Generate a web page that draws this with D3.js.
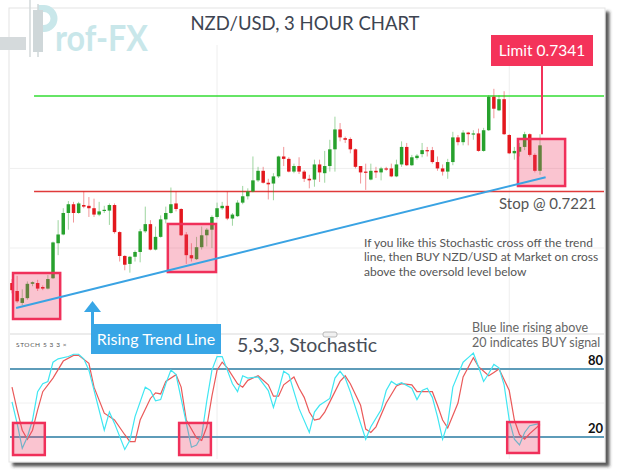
<!DOCTYPE html>
<html>
<head>
<meta charset="utf-8">
<script src="https://cdn.jsdelivr.net/npm/d3@7"></script>
<style>
body { margin: 0; background: #fff; }
text { font-family: Lato, "Open Sans", sans-serif; }
</style>
</head>
<body>
<script>
// NZD/USD 3 hour candles (open, high, low, close)
var opens = [.7106,.7096,.7081,.7087,.7105,.7106,.7101,.7099,.7112,.7156,
  .7167,.7194,.7205,.7194,.7204,.7203,.7200,.7192,.7197,.7197,
  .7204,.7170,.7140,.7130,.7139,.7145,.7171,.7180,.7148,.7164,
  .7186,.7194,.7206,.7199,.7167,.7141,.7136,.7151,.7166,.7173,
  .7189,.7200,.7203,.7187,.7190,.7207,.7215,.7221,.7235,.7247,
  .7232,.7231,.7240,.7265,.7262,.7246,.7253,.7246,.7237,.7236,
  .7255,.7244,.7253,.7274,.7299,.7288,.7287,.7274,.7253,.7246,
  .7236,.7247,.7245,.7250,.7250,.7240,.7255,.7277,.7254,.7263,
  .7268,.7273,.7273,.7258,.7250,.7246,.7258,.7289,.7283,.7295,
  .7293,.7294,.7272,.7298,.7340,.7323,.7337,.7292,.7269,.7271,
  .7277,.7293,.7267,.7247];
var highs = [.7111,.7115,.7098,.7108,.7108,.7110,.7103,.7116,.7158,.7185,
  .7200,.7209,.7208,.7208,.7221,.7214,.7212,.7208,.7203,.7206,
  .7206,.7171,.7141,.7140,.7147,.7174,.7202,.7185,.7177,.7191,
  .7202,.7226,.7221,.7200,.7170,.7156,.7164,.7177,.7175,.7191,
  .7207,.7208,.7221,.7194,.7210,.7228,.7225,.7265,.7252,.7252,
  .7237,.7244,.7266,.7277,.7264,.7256,.7264,.7248,.7242,.7261,
  .7261,.7272,.7286,.7315,.7307,.7290,.7289,.7275,.7253,.7256,
  .7256,.7252,.7252,.7252,.7256,.7261,.7284,.7282,.7267,.7268,
  .7282,.7277,.7277,.7265,.7255,.7262,.7296,.7292,.7298,.7296,
  .7298,.7300,.7301,.7342,.7350,.7342,.7347,.7293,.7277,.7282,
  .7296,.7294,.7269,.7293];
var lows = [.7093,.7081,.7078,.7085,.7102,.7096,.7097,.7098,.7111,.7141,
  .7166,.7173,.7182,.7193,.7200,.7189,.7189,.7190,.7194,.7179,
  .7168,.7133,.7122,.7119,.7133,.7132,.7169,.7147,.7147,.7163,
  .7181,.7193,.7196,.7165,.7130,.7133,.7135,.7148,.7152,.7150,
  .7187,.7198,.7185,.7178,.7189,.7205,.7211,.7220,.7233,.7231,
  .7211,.7210,.7238,.7253,.7245,.7244,.7243,.7233,.7225,.7227,
  .7233,.7232,.7246,.7246,.7284,.7282,.7269,.7250,.7231,.7223,
  .7235,.7238,.7235,.7247,.7239,.7239,.7252,.7253,.7253,.7261,
  .7264,.7265,.7256,.7247,.7241,.7237,.7254,.7279,.7279,.7279,
  .7286,.7271,.7271,.7297,.7313,.7322,.7292,.7268,.7261,.7265,
  .7273,.7265,.7245,.7242];
var closes = [.7097,.7083,.7087,.7105,.7107,.7099,.7099,.7111,.7157,.7167,
  .7194,.7205,.7194,.7206,.7202,.7200,.7192,.7196,.7198,.7204,
  .7170,.7140,.7129,.7139,.7145,.7171,.7180,.7148,.7164,.7186,
  .7194,.7205,.7199,.7166,.7141,.7137,.7151,.7166,.7173,.7189,
  .7200,.7203,.7187,.7192,.7207,.7215,.7221,.7235,.7247,.7232,
  .7230,.7240,.7265,.7262,.7246,.7253,.7246,.7237,.7235,.7255,
  .7245,.7253,.7274,.7299,.7289,.7286,.7274,.7252,.7245,.7245,
  .7247,.7245,.7250,.7249,.7240,.7255,.7277,.7254,.7264,.7266,
  .7273,.7272,.7258,.7250,.7246,.7258,.7289,.7283,.7295,.7293,
  .7294,.7272,.7298,.7340,.7325,.7337,.7293,.7269,.7272,.7277,
  .7293,.7267,.7247,.7279];

// stochastic 5,3,3 : candle index of each visible vertex and its value
var kIdx = [0,1,2,3,4,5,6,7,8,9,11,12,13,14,15,18,19,20,22,23,24,26,27,28,29,30,31,32,35,36,37,38,39,40,41,42,43,44,45,46,48,50,51,52,53,54,55,56,58,59,60,62,63,64,65,66,69,70,72,73,74,75,76,78,79,80,81,82,83,84,85,86,88,89,90,91,92,93,94,95,96,97,98,99,100,101,103];
var kVal = [51,32,10,20,35,60,67,69,86,89,91,93,93,89,79,26,42,32,9,17,38,64,61,52,53,67,79,75,11,13,21,52,79,91,91,79,67,60,74,72,73,61,46,61,78,75,60,45,24,42,48,54,72,78,72,60,18,29,44,61,69,66,68,63,53,61,63,55,38,18,32,64,86,90,94,82,69,76,84,81,66,35,18,13,24,30,32];
var dIdx = [0,1,2,3,4,5,6,8,10,12,13,15,16,18,19,20,22,23,24,25,27,28,29,30,32,33,34,36,37,38,39,40,41,42,44,45,46,48,50,51,52,53,55,56,57,58,59,60,61,62,64,65,66,68,69,70,71,73,75,76,78,79,81,82,83,84,85,87,88,90,91,93,94,95,97,98,99,100,101,103];
var dVal = [64,44,26,18,26,44,60,72,87,92,92,85,64,41,38,35,22,16,16,35,54,59,58,69,75,64,35,19,17,29,56,79,86,81,67,64,70,74,66,56,56,66,73,63,55,42,35,36,42,51,69,74,67,48,27,24,29,50,65,67,66,60,60,60,48,35,28,50,73,90,82,74,77,80,61,35,22,18,23,31];

// levels and grid
var limitPrice = 0.7341, stopPrice = 0.7221;
var priceGrid = [0.7150, 0.7250];
var stochLevels = [80, 20];
var timeGrid = [40, 97];

// annotation boxes in data units: [fromIndex, toIndex, top, bottom]
var priceBoxes = [[0.2, 9.4, 0.71186, 0.70608], [30.4, 39.8, 0.71802, 0.71198], [98.7, 107.9, 0.72870, 0.72279]];
var stochBoxes = [[0.2, 6.4, 32.4, 4.1], [32.6, 38.8, 32.4, 4.1], [96.6, 102.8, 33.2, 5.9]];
var trend = [[0.8, 0.70746], [104.1, 0.72389]];

var candles = opens.map(function(o, i) {
  return { i: i, o: o, h: highs[i], l: lows[i], c: closes[i] };
});

var svg = d3.select("body").append("svg")
  .attr("width", 617)
  .attr("height", 472);

var x = d3.scaleLinear().domain([0, 103]).range([12, 540]);
var y = d3.scaleLinear().domain([stopPrice, limitPrice]).range([191.5, 96]);
var ys = d3.scaleLinear().domain([20, 80]).range([437, 369]);

var green = "#27a12d", red = "#e3171d";

// card with shadow
var filter = svg.append("defs").append("filter")
  .attr("id", "shadow")
  .attr("x", "-5%").attr("y", "-5%")
  .attr("width", "115%").attr("height", "115%");
filter.append("feDropShadow")
  .attr("dx", 4).attr("dy", 4)
  .attr("stdDeviation", 1.8)
  .attr("flood-color", "#333")
  .attr("flood-opacity", 0.8);

svg.append("rect")
  .attr("x", 9).attr("y", 8)
  .attr("width", 596).attr("height", 454)
  .attr("fill", "#fff")
  .attr("stroke", "#e3e3e3")
  .attr("filter", "url(#shadow)");

// logo
var logo = svg.append("g");
logo.append("rect").attr("x", 0).attr("y", 37).attr("width", 26).attr("height", 13).attr("fill", "#d5dadc");
logo.append("line").attr("x1", 30).attr("x2", 30).attr("y1", 0).attr("y2", 57).attr("stroke", "#d3d8da").attr("stroke-width", 1.5);
logo.append("path").attr("d", "M38,8.5 H44 A10,10 0 0 1 44,28.5 H38")
  .attr("fill", "none").attr("stroke", "#c9e7ea").attr("stroke-width", 7);
logo.append("rect").attr("x", 33).attr("y", 10).attr("width", 10).attr("height", 42).attr("fill", "#cfd7d9");
logo.append("line").attr("x1", 38).attr("x2", 38).attr("y1", 4).attr("y2", 57).attr("stroke", "#cfd7d9").attr("stroke-width", 1.5);
logo.append("text")
  .attr("x", 55).attr("y", 51)
  .attr("font-family", "Roboto, sans-serif")
  .attr("font-weight", "bold")
  .attr("font-size", 36)
  .attr("textLength", 93)
  .attr("lengthAdjust", "spacingAndGlyphs")
  .attr("fill", "#c9e7ea")
  .text("rof-FX");

// title
svg.append("text")
  .attr("x", 305).attr("y", 30)
  .attr("text-anchor", "middle")
  .attr("font-size", 18.5)
  .attr("fill", "#3d4451")
  .text("NZD/USD, 3 HOUR CHART");

// grid
svg.selectAll(".pgrid")
  .data(priceGrid)
  .enter().append("line")
  .attr("x1", 10).attr("x2", 604)
  .attr("y1", function(d) { return y(d); })
  .attr("y2", function(d) { return y(d); })
  .attr("stroke", "#efefef");

svg.selectAll(".tgrid")
  .data(timeGrid)
  .enter().append("line")
  .attr("x1", function(d) { return x(d); })
  .attr("x2", function(d) { return x(d); })
  .attr("y1", 45).attr("y2", 459)
  .attr("stroke", "#eeeeee");

svg.append("line")
  .attr("x1", 10).attr("x2", 604)
  .attr("y1", ys(50)).attr("y2", ys(50))
  .attr("stroke", "#f0f0f0");

// limit and stop lines
svg.append("line")
  .attr("x1", x(4.3)).attr("x2", 604)
  .attr("y1", y(limitPrice)).attr("y2", y(limitPrice))
  .attr("stroke", "#33dd33").attr("stroke-width", 1.3);
svg.append("line")
  .attr("x1", x(4.3)).attr("x2", 604)
  .attr("y1", y(stopPrice)).attr("y2", y(stopPrice))
  .attr("stroke", "#e03a3a").attr("stroke-width", 1.3);

// candles
var cg = svg.selectAll(".candle")
  .data(candles)
  .enter().append("g")
  .attr("class", "candle");

cg.append("line")
  .attr("x1", function(d) { return x(d.i); })
  .attr("x2", function(d) { return x(d.i); })
  .attr("y1", function(d) { return y(d.h); })
  .attr("y2", function(d) { return y(d.l); })
  .attr("stroke", function(d) { return d.c >= d.o ? green : red; })
  .attr("stroke-opacity", 0.45)
  .attr("stroke-width", 1);

cg.append("rect")
  .attr("x", function(d) { return x(d.i) - 1.75; })
  .attr("width", 3.5)
  .attr("y", function(d) { return y(Math.max(d.o, d.c)); })
  .attr("height", function(d) { return Math.max(1.2, Math.abs(y(d.o) - y(d.c))); })
  .attr("fill", function(d) { return d.c >= d.o ? green : red; });

// stochastic panel
svg.append("line")
  .attr("x1", 10).attr("x2", 604)
  .attr("y1", 334).attr("y2", 334)
  .attr("stroke", "#d9d9d9");
svg.append("rect")
  .attr("x", 323).attr("y", 332)
  .attr("width", 14).attr("height", 5).attr("rx", 2)
  .attr("fill", "#f0f0f0").attr("stroke", "#aaa").attr("stroke-width", 0.8);

svg.selectAll(".level")
  .data(stochLevels)
  .enter().append("line")
  .attr("x1", 10).attr("x2", 604)
  .attr("y1", function(d) { return ys(d); })
  .attr("y2", function(d) { return ys(d); })
  .attr("stroke", "#5e9cb9").attr("stroke-width", 2);

svg.selectAll(".levelLabel")
  .data(stochLevels)
  .enter().append("text")
  .attr("x", 603)
  .attr("y", function(d) { return ys(d) - 4; })
  .attr("text-anchor", "end")
  .attr("font-family", "'Liberation Serif', 'DejaVu Serif', serif")
  .attr("font-weight", "bold")
  .attr("font-size", 13)
  .attr("fill", "#111")
  .text(function(d) { return d; });

var stochLine = d3.line()
  .x(function(d) { return x(d[0]); })
  .y(function(d) { return ys(d[1]); });

svg.append("path")
  .datum(dIdx.map(function(d, i) { return [d, dVal[i]]; }))
  .attr("d", stochLine)
  .attr("fill", "none")
  .attr("stroke", "#ea5a5a")
  .attr("stroke-width", 1.2);

svg.append("path")
  .datum(kIdx.map(function(d, i) { return [d, kVal[i]]; }))
  .attr("d", stochLine)
  .attr("fill", "none")
  .attr("stroke", "#3fe6f2")
  .attr("stroke-width", 1.2);

svg.append("text")
  .attr("x", 16).attr("y", 347)
  .attr("font-size", 6.5)
  .attr("letter-spacing", 0.6)
  .attr("fill", "#555")
  .text("STOCH 5 3 3 \u00d7");

// pink boxes
function drawBoxes(list, yScale) {
  svg.selectAll(null)
    .data(list)
    .enter().append("rect")
    .attr("x", function(d) { return x(d[0]); })
    .attr("width", function(d) { return x(d[1]) - x(d[0]); })
    .attr("y", function(d) { return yScale(d[2]); })
    .attr("height", function(d) { return yScale(d[3]) - yScale(d[2]); })
    .attr("fill", "rgba(240,60,100,0.3)")
    .attr("stroke", "#f0305a")
    .attr("stroke-width", 2.5);
}
drawBoxes(priceBoxes, y);
drawBoxes(stochBoxes, ys);

// rising trend line
svg.append("line")
  .attr("x1", x(trend[0][0])).attr("y1", y(trend[0][1]))
  .attr("x2", x(trend[1][0])).attr("y2", y(trend[1][1]))
  .attr("stroke", "#3aa3e3").attr("stroke-width", 2);

var blue = "#38a6e6";
svg.append("path").attr("d", "M92.5,301 L101,312 L84,312 Z").attr("fill", blue);
svg.append("rect").attr("x", 91).attr("y", 311).attr("width", 3).attr("height", 14).attr("fill", blue);
svg.append("rect").attr("x", 91).attr("y", 324).attr("width", 130).attr("height", 30).attr("fill", blue);
svg.append("text")
  .attr("x", 156).attr("y", 345)
  .attr("text-anchor", "middle")
  .attr("font-size", 16)
  .attr("fill", "#fff")
  .text("Rising Trend Line");

// limit label
svg.append("line")
  .attr("x1", 542).attr("x2", 542)
  .attr("y1", 66).attr("y2", y(highs[103]))
  .attr("stroke", "#f2335a").attr("stroke-width", 2);
svg.append("rect")
  .attr("x", 491).attr("y", 35)
  .attr("width", 102).attr("height", 31)
  .attr("fill", "#f4335a");
svg.append("text")
  .attr("x", 542).attr("y", 56)
  .attr("text-anchor", "middle")
  .attr("font-size", 15.5)
  .attr("fill", "#fff")
  .text("Limit 0.7341");

// other texts
svg.append("text")
  .attr("x", 499).attr("y", 209)
  .attr("font-size", 15)
  .attr("fill", "#555")
  .text("Stop @ 0.7221");

var note = ["If you like this Stochastic cross off the trend",
  "line, then BUY NZD/USD at Market on cross",
  "above the oversold level below"];
svg.selectAll(".note")
  .data(note)
  .enter().append("text")
  .attr("x", 364)
  .attr("y", function(d, i) { return 247 + i * 14.3; })
  .attr("font-size", 12)
  .attr("fill", "#555")
  .text(function(d) { return d; });

var note2 = ["Blue line rising above", "20 indicates BUY signal"];
svg.selectAll(".note2")
  .data(note2)
  .enter().append("text")
  .attr("x", 472)
  .attr("y", function(d, i) { return 332 + i * 15; })
  .attr("font-size", 12.5)
  .attr("fill", "#666")
  .text(function(d) { return d; });

svg.append("text")
  .attr("x", 237).attr("y", 352)
  .attr("font-size", 19.5)
  .attr("fill", "#474d57")
  .text("5,3,3, Stochastic");
</script>
</body>
</html>
